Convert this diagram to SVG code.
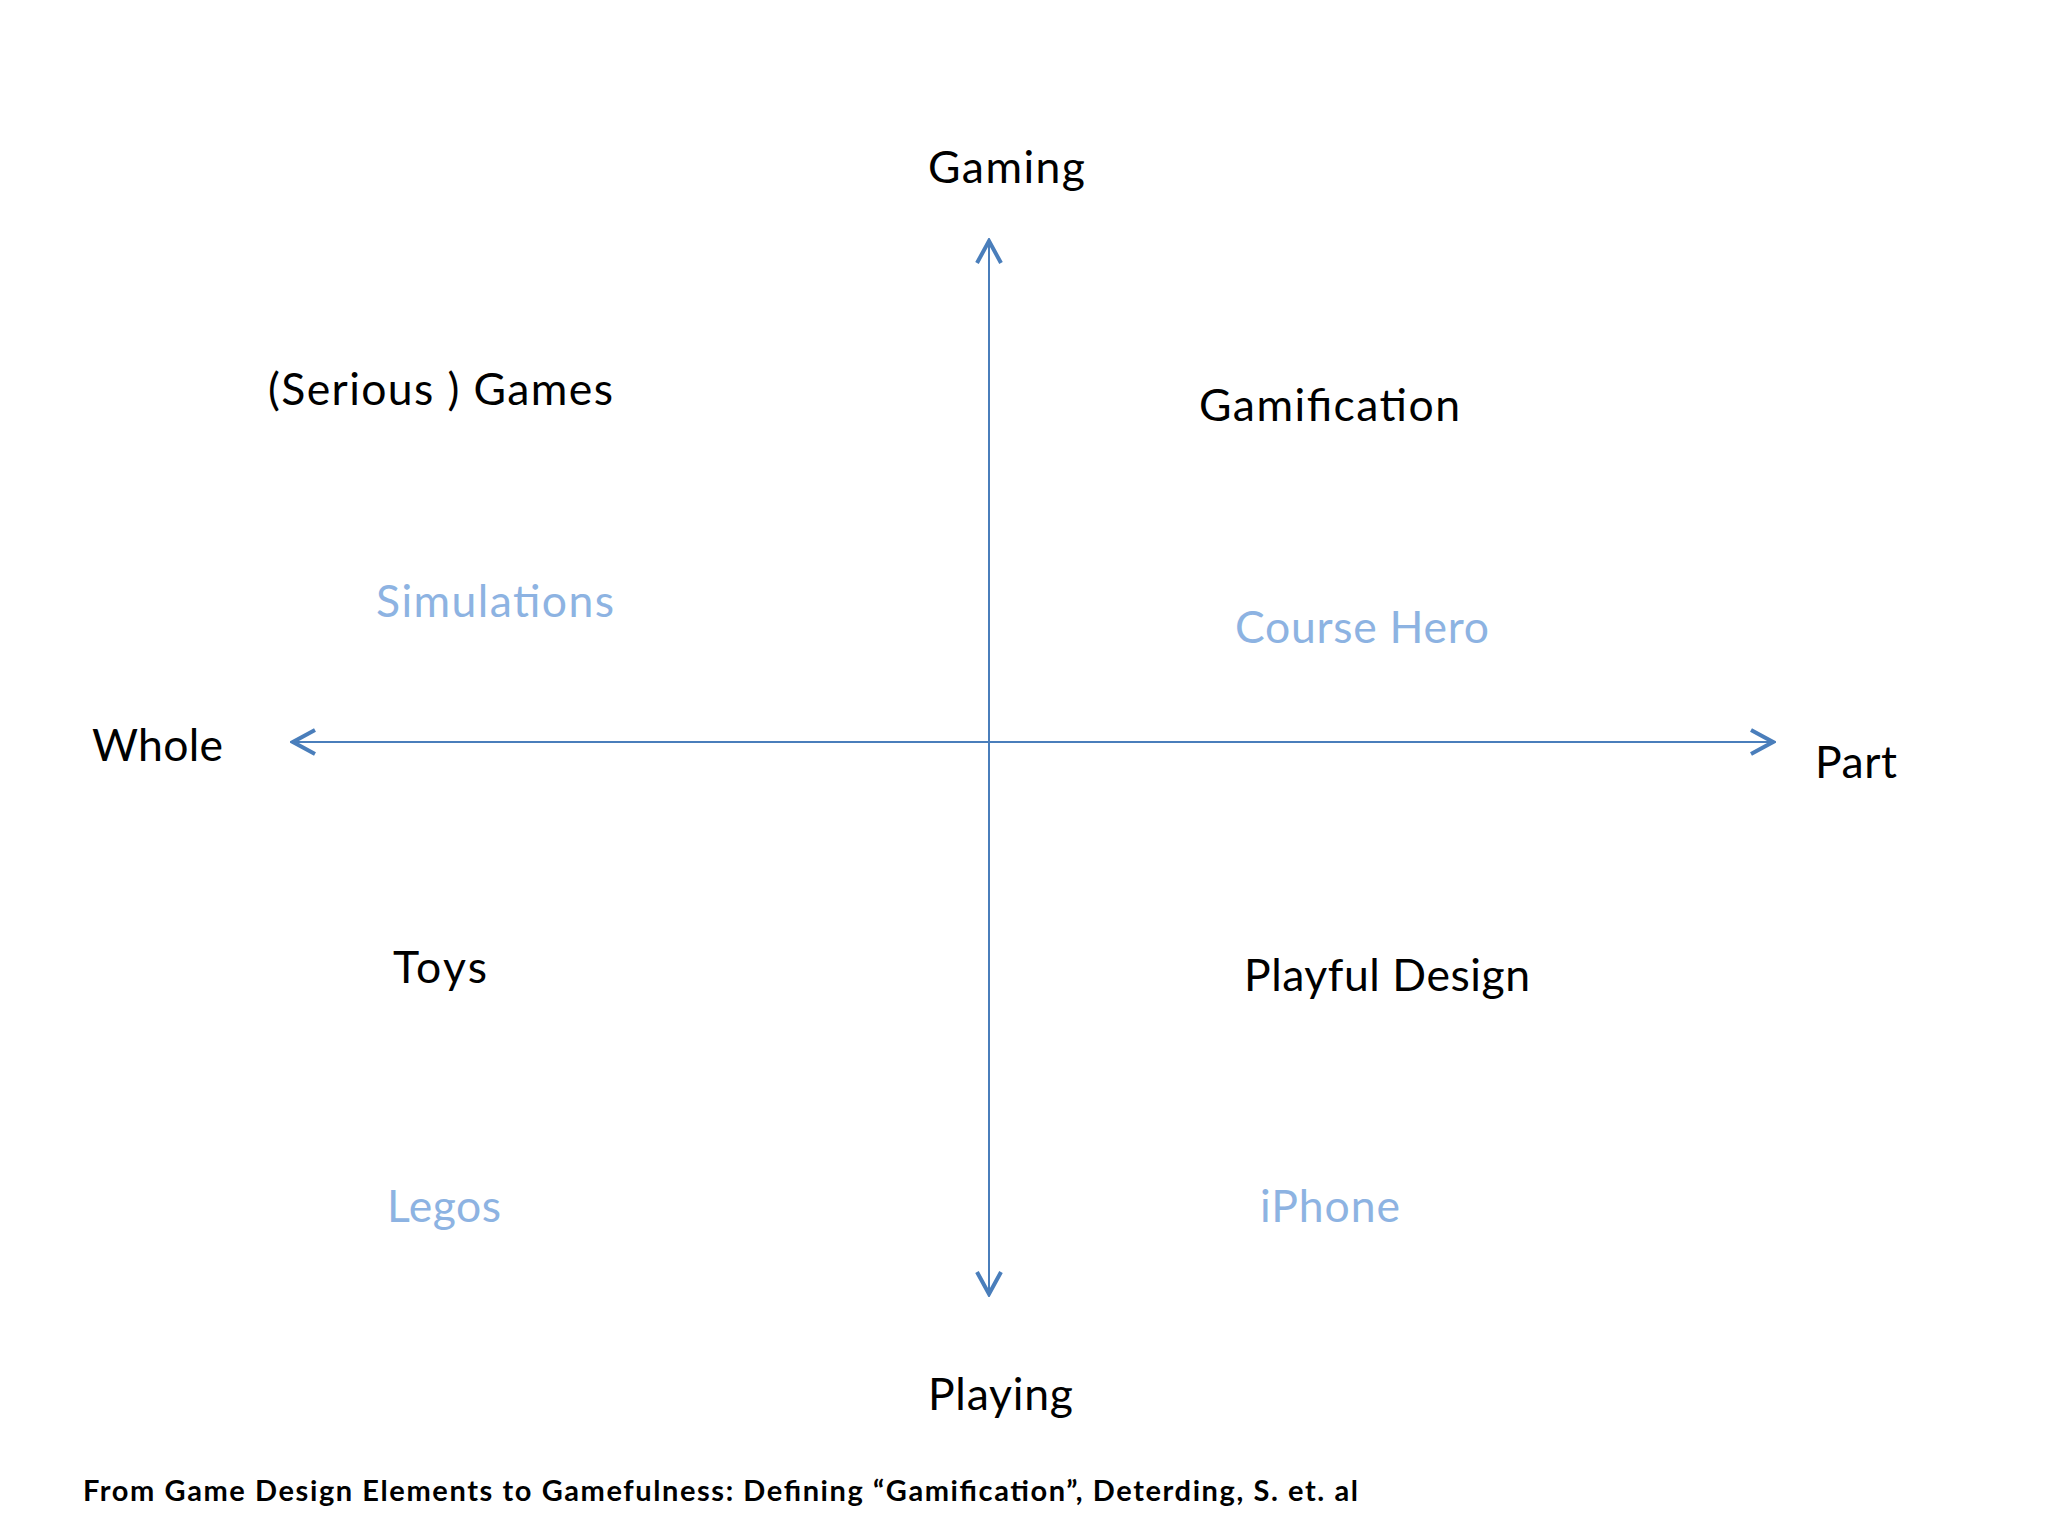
<svg xmlns="http://www.w3.org/2000/svg" width="2048" height="1536" viewBox="0 0 2048 1536">
  <style>
    .lbl { font-family: Lato, "Open Sans", "Liberation Sans", sans-serif; font-size: 44.5px; fill: #000000; }
    .sub { font-family: Lato, "Open Sans", "Liberation Sans", sans-serif; font-size: 44.5px; fill: #8DB3E2; }
    .foot { font-family: Lato, "Open Sans", "Liberation Sans", sans-serif; font-size: 29px; font-weight: bold; fill: #000000; }
    .axis { stroke: #4A7EBB; stroke-width: 2; fill: none; }
    .head { stroke: #4A7EBB; stroke-width: 4; fill: none; stroke-linecap: butt; stroke-linejoin: miter; }
  </style>
  <defs>
    <marker id="chev" markerUnits="userSpaceOnUse" viewBox="-26 -14 28 28" refX="0" refY="0" markerWidth="28" markerHeight="28" orient="auto-start-reverse">
      <path class="head" d="M-23,-12 L-1,0 L-23,12"/>
    </marker>
  </defs>
  <rect x="0" y="0" width="2048" height="1536" fill="#FFFFFF"/>

  <g id="connectors">
    <line id="axis-h" class="axis" x1="292" y1="742" x2="1774" y2="742" marker-start="url(#chev)" marker-end="url(#chev)"/>
    <line id="axis-v" class="axis" x1="989" y1="240" x2="989" y2="1295" marker-start="url(#chev)" marker-end="url(#chev)"/>
  </g>

  <g id="gaming"><text class="lbl" x="928" y="183" textLength="157" lengthAdjust="spacing">Gaming</text></g>
  <g id="playing"><text class="lbl" x="928" y="1410" textLength="145" lengthAdjust="spacing">Playing</text></g>
  <g id="whole"><text class="lbl" x="92" y="761" textLength="131" lengthAdjust="spacing">Whole</text></g>
  <g id="part"><text class="lbl" x="1815" y="778" textLength="82" lengthAdjust="spacing">Part</text></g>

  <g id="serious-games">
    <text class="lbl" x="268" y="405" textLength="345" lengthAdjust="spacing">(Serious ) Games</text>
    <text class="sub" x="376" y="617" textLength="238" lengthAdjust="spacing">Simulations</text>
  </g>
  <g id="gamification">
    <text class="lbl" x="1199" y="421" textLength="261" lengthAdjust="spacing">Gamification</text>
    <text class="sub" x="1235" y="643" textLength="254" lengthAdjust="spacing">Course Hero</text>
  </g>
  <g id="toys">
    <text class="lbl" x="393" y="983" textLength="94" lengthAdjust="spacing">Toys</text>
    <text class="sub" x="387" y="1222" textLength="114" lengthAdjust="spacing">Legos</text>
  </g>
  <g id="playful-design">
    <text class="lbl" x="1244" y="991" textLength="286" lengthAdjust="spacing">Playful Design</text>
    <text class="sub" x="1260" y="1222" textLength="140" lengthAdjust="spacing">iPhone</text>
  </g>

  <g id="footer">
    <text class="foot" x="83" y="1501" textLength="1275" lengthAdjust="spacing">From Game Design Elements to Gamefulness: Defining “Gamification”, Deterding, S. et. al</text>
  </g>
</svg>
